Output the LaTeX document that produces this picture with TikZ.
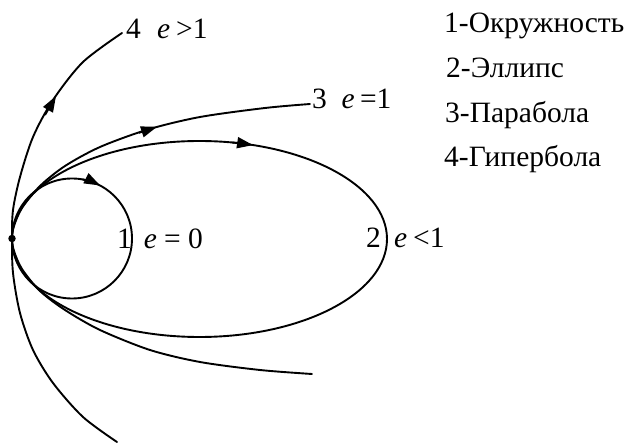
\documentclass[tikz,border=0pt]{standalone}
\usepackage{fontspec}
\setmainfont{Liberation Serif}
\usetikzlibrary{arrows.meta}
\begin{document}
\begin{tikzpicture}[x=1pt,y=-1pt,
  curve/.style={line width=1.9pt, line join=round, line cap=round},
  tip/.style={line width=1.9pt, -{Triangle[length=16pt,width=11pt]}},
  lbl/.style={anchor=base west, inner sep=0pt, font=\fontsize{29.5}{34}\selectfont}
]
\useasboundingbox (0,0) rectangle (630,443);

% 1 - circle
\draw[curve] (72,238.5) circle[radius=60];
\draw[tip] plot[smooth, domain=280:298, samples=7, variable=\t]
  ({72+60*cos(\t)}, {238.5+60*sin(\t)});
% 2 - ellipse
\draw[curve] (199.5,239) ellipse[x radius=187.5, y radius=98];
\draw[tip] plot[smooth, domain=280:286.6, samples=5, variable=\t]
  ({199.5+187.5*cos(\t)}, {239+98*sin(\t)});
% 3 - parabola
\draw[curve] plot[smooth] coordinates {
  (312,374) (260,370) (200,362) (150,350) (100,330) (65,310) (40,291)
  (22,269) (14,251) (12,238.5) (14,226) (22,208) (40,186) (65,166)
  (100,147) (148,129.5) (200,117) (265,108) (310,104)};
\coordinate (p3a) at (139,132.8);
\coordinate (p3b) at (157,126.8);
\draw[tip] (p3a) -- (p3b);
% 4 - hyperbola
\draw[curve] plot[smooth] coordinates {
  (117,442) (83,417) (53,383) (33,350) (20,313) (13,273) (12,238.5)
  (13,210) (20,177) (33,137) (53,100) (83,62) (122,33)};
\coordinate (p4a) at (45,115);
\coordinate (p4b) at (56,96);
\draw[tip] (p4a) -- (p4b);

\node[fill, circle, inner sep=0pt, minimum size=7.5pt] (f) at (12,238.5) {};

% labels on curves
\node[lbl] (l4) at (126,39) {4\hspace{0.55em}\textit{e}\hspace{0.2em}>1};
\node[lbl] (l3) at (312,109) {3\hspace{0.5em}\textit{e}\hspace{0.18em}=1};
\node[lbl] (l1) at (117,249) {1\hspace{0.4em}\textit{e} = 0};
\node[lbl] (l2) at (366,248) {2\hspace{0.45em}\textit{e}\hspace{0.2em}<1};

% legend
\node[lbl] (k1) at (444,33) {1-Окружность};
\node[lbl] (k2) at (446,78) {2-Эллипс};
\node[lbl] (k3) at (445,123) {3-Парабола};
\node[lbl] (k4) at (444,167) {4-Гипербола};
\end{tikzpicture}
\end{document}
